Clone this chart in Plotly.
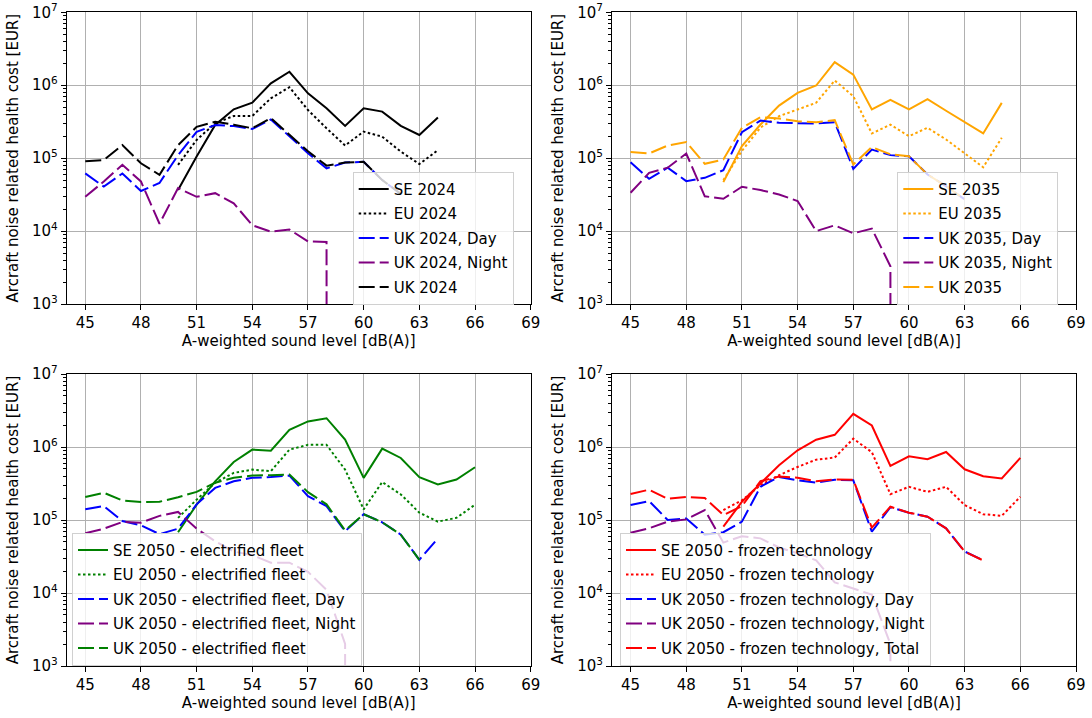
import plotly.graph_objects as go

N = None
levels = list(range(45, 67))  # A-weighted sound level [dB(A)], 45..66

# ---- 2024 ----
se_2024 = [N, N, N, N, N, 3.66e4, 1.05e5, 2.85e5, 4.68e5, 5.77e5, 1.06e6, 1.53e6, 7.74e5, 4.83e5, 2.77e5,
           4.83e5, 4.35e5, 2.77e5, 2.08e5, 3.6e5, N, N]
eu_2024 = [N, N, N, N, N, 8.07e4, 1.78e5, 3.0e5, 3.79e5, 3.79e5, 6.62e5, 9.38e5, 4.57e5, 2.57e5, 1.49e5,
           2.31e5, 1.97e5, 1.23e5, 8.3e4, 1.29e5, N, N]
uk_day_2024 = [6.17e4, 4.07e4, 6.17e4, 3.55e4, 4.57e4, 1.1e5, 2.29e5, 2.85e5, 2.75e5, 2.51e5, 3.39e5, 2.0e5,
               1.17e5, 7.24e4, 8.7e4, 8.9e4, 5.0e4, 3.24e4, N, N, N, N]
uk_night_2024 = [2.95e4, 4.79e4, 8.1e4, 4.79e4, 1.26e4, 3.89e4, 2.95e4, 3.31e4, 2.4e4, 1.2e4, 9.8e3, 1.05e4,
                 7.2e3, 7.1e3, 0, N, N, N, N, N, N, N]
uk_tot_2024 = [9.1e4, 9.4e4, 1.51e5, 8.5e4, 5.9e4, 1.51e5, 2.69e5, 3.16e5, 2.88e5, 2.57e5, 3.55e5, 2.1e5,
               1.24e5, 7.9e4, 8.7e4, 8.9e4, 5.0e4, 3.24e4, N, N, N, N]

# ---- 2035 ----
se_2035 = [N, N, N, N, N, 4.69e4, 1.46e5, 2.89e5, 5.25e5, 7.85e5, 9.9e5, 2.07e6, 1.4e6, 4.65e5, 6.31e5,
           4.65e5, 6.46e5, 4.47e5, 3.09e5, 2.18e5, 5.73e5, N]
eu_2035 = [N, N, N, N, N, 5.0e4, 1.26e5, 2.63e5, 3.76e5, 4.65e5, 5.75e5, 1.16e6, 7.08e5, 2.18e5, 2.88e5,
           2.0e5, 2.61e5, 1.8e5, 1.17e5, 7.5e4, 1.9e5, N]
uk_day_2035 = [8.8e4, 5.2e4, 7.4e4, 4.84e4, 5.37e4, 6.85e4, 2.27e5, 3.28e5, 3.05e5, 2.99e5, 2.99e5, 3.11e5,
               7.14e4, 1.31e5, 1.1e5, 1.06e5, 5.97e4, 4.13e4, 2.72e4, N, N, N]
uk_night_2035 = [3.35e4, 6.3e4, 7.4e4, 1.16e5, 3.0e4, 2.77e4, 4.05e4, 3.65e4, 3.18e4, 2.58e4, 1.0e4, 1.2e4,
                 9.3e3, 1.08e4, 3.3e3, 0, N, N, N, N, N, N]
uk_tot_2035 = [1.21e5, 1.16e5, 1.49e5, 1.66e5, 8.36e4, 9.6e4, 2.61e5, 3.65e5, 3.49e5, 3.21e5, 3.11e5, 3.32e5,
               8.2e4, 1.42e5, 1.13e5, 1.06e5, 5.97e4, 4.13e4, 2.72e4, N, N, N]

# ---- 2050 electrified fleet ----
se_el = [N, N, N, N, N, 6.8e4, 1.62e5, 3.39e5, 6.24e5, 9.2e5, 8.9e5, 1.72e6, 2.24e6, 2.48e6, 1.26e6,
         3.78e5, 9.5e5, 7.08e5, 3.85e5, 3.06e5, 3.59e5, 5.28e5]
eu_el = [N, N, N, N, N, 1.07e5, 1.9e5, 3.24e5, 4.42e5, 4.9e5, 4.66e5, 9.2e5, 1.07e6, 1.07e6, 4.9e5,
         1.4e5, 3.31e5, 2.24e5, 1.26e5, 9.5e4, 1.07e5, 1.62e5]
uk_day_el = [1.4e5, 1.55e5, 9.7e4, 8.45e4, 6.4e4, 7.6e4, 1.64e5, 2.75e5, 3.39e5, 3.78e5, 3.89e5, 4.07e5,
             2.12e5, 1.55e5, 7.0e4, 1.2e5, 9.3e4, 6.3e4, 2.85e4, 5.6e4, N, N]
uk_night_el = [6.6e4, 7.6e4, 9.4e4, 9.2e4, 1.14e5, 1.29e5, 7.6e4, 5.1e4, 3.7e4, 3.3e4, 2.6e4, 2.6e4,
               1.95e4, 1.1e4, 2.0e3, 0, N, N, N, N, N, N]
uk_tot_el = [2.06e5, 2.36e5, 1.85e5, 1.76e5, 1.78e5, 2.05e5, 2.43e5, 3.24e5, 3.78e5, 4.07e5, 4.1e5, 4.2e5,
             2.41e5, 1.64e5, 7.2e4, 1.2e5, 9.3e4, 6.3e4, 2.85e4, N, N, N]

# ---- 2050 frozen technology ----
se_fr = [N, N, N, N, N, 8.1e4, 1.78e5, 3.16e5, 5.62e5, 9.0e5, 1.26e6, 1.47e6, 2.85e6, 1.97e6, 5.5e5,
         7.46e5, 6.8e5, 8.55e5, 4.95e5, 3.98e5, 3.7e5, 7.08e5]
eu_fr = [N, N, N, N, N, 1.37e5, 1.86e5, 3.0e5, 4.11e5, 5.33e5, 6.71e5, 7.16e5, 1.3e6, 8.5e5, 2.26e5,
         2.85e5, 2.43e5, 2.85e5, 1.6e5, 1.2e5, 1.14e5, 2.08e5]
uk_day_fr = [1.6e5, 1.82e5, 1.0e5, 1.05e5, 6.3e4, 6.8e4, 9.5e4, 2.85e5, 3.89e5, 3.5e5, 3.24e5, 3.55e5,
             3.5e5, 6.9e4, 1.5e5, 1.26e5, 1.11e5, 7.7e4, 3.7e4, 2.79e4, N, N]
uk_night_fr = [6.7e4, 7.7e4, 9.5e4, 1.02e5, 1.37e5, 4.9e4, 6.0e4, 5.6e4, 4.2e4, 3.5e4, 2.8e4, 1.4e4,
               1.15e4, 9.5e3, 2.0e3, 0, N, N, N, N, N, N]
uk_tot_fr = [2.27e5, 2.6e5, 1.95e5, 2.07e5, 2.0e5, 1.17e5, 1.55e5, 3.4e5, 3.95e5, 3.8e5, 3.4e5, 3.6e5,
             3.55e5, 7.85e4, 1.52e5, 1.26e5, 1.11e5, 7.7e4, 3.7e4, 2.79e4, N, N]

x_ticks = list(range(45, 70, 3))
y_decades = [3, 4, 5, 6, 7]

FONT = "DejaVu Sans"
FS = 15
SOLID, DOT, DASH = "solid", "2.5px,2.5px", "16px,5px"


def clip(vals):
    # log scale: non-positive values are clipped to a tiny positive value
    return [v if v is None or v > 0 else 1e-300 for v in vals]


panels = [
    ("x", "y", "legend", [
        ("SE 2024", se_2024, "black", SOLID),
        ("EU 2024", eu_2024, "black", DOT),
        ("UK 2024, Day", uk_day_2024, "blue", DASH),
        ("UK 2024, Night", uk_night_2024, "purple", DASH),
        ("UK 2024", uk_tot_2024, "black", DASH),
    ]),
    ("x2", "y2", "legend2", [
        ("SE 2035", se_2035, "orange", SOLID),
        ("EU 2035", eu_2035, "orange", DOT),
        ("UK 2035, Day", uk_day_2035, "blue", DASH),
        ("UK 2035, Night", uk_night_2035, "purple", DASH),
        ("UK 2035", uk_tot_2035, "orange", DASH),
    ]),
    ("x3", "y3", "legend3", [
        ("SE 2050 - electrified fleet", se_el, "green", SOLID),
        ("EU 2050 - electrified fleet", eu_el, "green", DOT),
        ("UK 2050 - electrified fleet, Day", uk_day_el, "blue", DASH),
        ("UK 2050 - electrified fleet, Night", uk_night_el, "purple", DASH),
        ("UK 2050 - electrified fleet", uk_tot_el, "green", DASH),
    ]),
    ("x4", "y4", "legend4", [
        ("SE 2050 - frozen technology", se_fr, "red", SOLID),
        ("EU 2050 - frozen technology", eu_fr, "red", DOT),
        ("UK 2050 - frozen technology, Day", uk_day_fr, "blue", DASH),
        ("UK 2050 - frozen technology, Night", uk_night_fr, "purple", DASH),
        ("UK 2050 - frozen technology, Total", uk_tot_fr, "red", DASH),
    ]),
]

fig = go.Figure()
for pi, (xa, ya, lg, series) in enumerate(panels):
    for si, (name, vals, color, dash) in enumerate(series):
        fig.add_trace(go.Scatter(
            x=levels, y=clip(vals), name=name, mode="lines",
            line=dict(color=color, width=2, dash=dash),
            xaxis=xa, yaxis=ya, legend=lg, legendgroup=f"g{pi}_{si}",
            connectgaps=False, showlegend=True,
        ))

W, H = 1092, 718
xdom = {"L": [66.7 / W, 530.7 / W], "R": [612 / W, 1076 / W]}
ydom = {"T": [1 - 304 / H, 1 - 12.3 / H], "B": [1 - 666 / H, 1 - 374 / H]}
pos = {1: ("L", "T"), 2: ("R", "T"), 3: ("L", "B"), 4: ("R", "B")}

minor_vals = [m * 10 ** e for e in range(3, 7) for m in range(2, 10)]

layout = dict(
    width=W, height=H, margin=dict(l=0, r=0, t=0, b=0),
    paper_bgcolor="white", plot_bgcolor="white",
    font=dict(family=FONT, size=FS, color="black"),
    showlegend=True,
)
for i in range(1, 5):
    sx = "" if i == 1 else str(i)
    hx, vy = pos[i]
    layout["xaxis" + sx] = dict(
        domain=xdom[hx], anchor="y" + sx, range=[44.0, 69.0],
        tickmode="array", tickvals=x_ticks, ticktext=[str(t) for t in x_ticks],
        showline=True, mirror=True, linecolor="black", linewidth=1,
        ticks="outside", ticklen=5, tickcolor="black", tickwidth=1,
        showgrid=True, gridcolor="#b0b0b0", gridwidth=1, zeroline=False,
        tickfont=dict(family=FONT, size=FS, color="black"),
        title=dict(text="A-weighted sound level [dB(A)]", font=dict(family=FONT, size=FS), standoff=4),
        automargin=False,
    )
    layout["yaxis" + sx] = dict(
        domain=ydom[vy], anchor="x" + sx, type="log", range=[3, 7],
        tickmode="array", tickvals=[10 ** d for d in y_decades],
        ticktext=[f"10<sup>{d}</sup>" for d in y_decades],
        showline=True, mirror=True, linecolor="black", linewidth=1,
        ticks="outside", ticklen=5, tickcolor="black", tickwidth=1,
        minor=dict(tickmode="array", tickvals=minor_vals, ticks="outside", ticklen=3,
                   tickcolor="black", showgrid=False),
        showgrid=True, gridcolor="#b0b0b0", gridwidth=1, zeroline=False,
        tickfont=dict(family=FONT, size=FS, color="black"),
        title=dict(text="Arcraft noise related health cost [EUR]", font=dict(family=FONT, size=FS), standoff=9),
        automargin=False,
    )

legend_pos = {
    "legend": (352.7 / W, 1 - 171.7 / H),
    "legend2": (897.3 / W, 1 - 171.7 / H),
    "legend3": (72 / W, 1 - 532.7 / H),
    "legend4": (620 / W, 1 - 532.7 / H),
}
for lg, (lx, ly) in legend_pos.items():
    layout[lg] = dict(
        x=lx, y=ly, xanchor="left", yanchor="top",
        bgcolor="rgba(255,255,255,0.8)", bordercolor="#d0d0d0", borderwidth=1,
        font=dict(family=FONT, size=FS, color="black"),
        tracegroupgap=2, traceorder="grouped",
    )

fig.update_layout(**layout)
fig.write_html("out.html", config={"displayModeBar": False},
               post_script="document.body.style.margin='0px';document.body.style.overflow='hidden';")
